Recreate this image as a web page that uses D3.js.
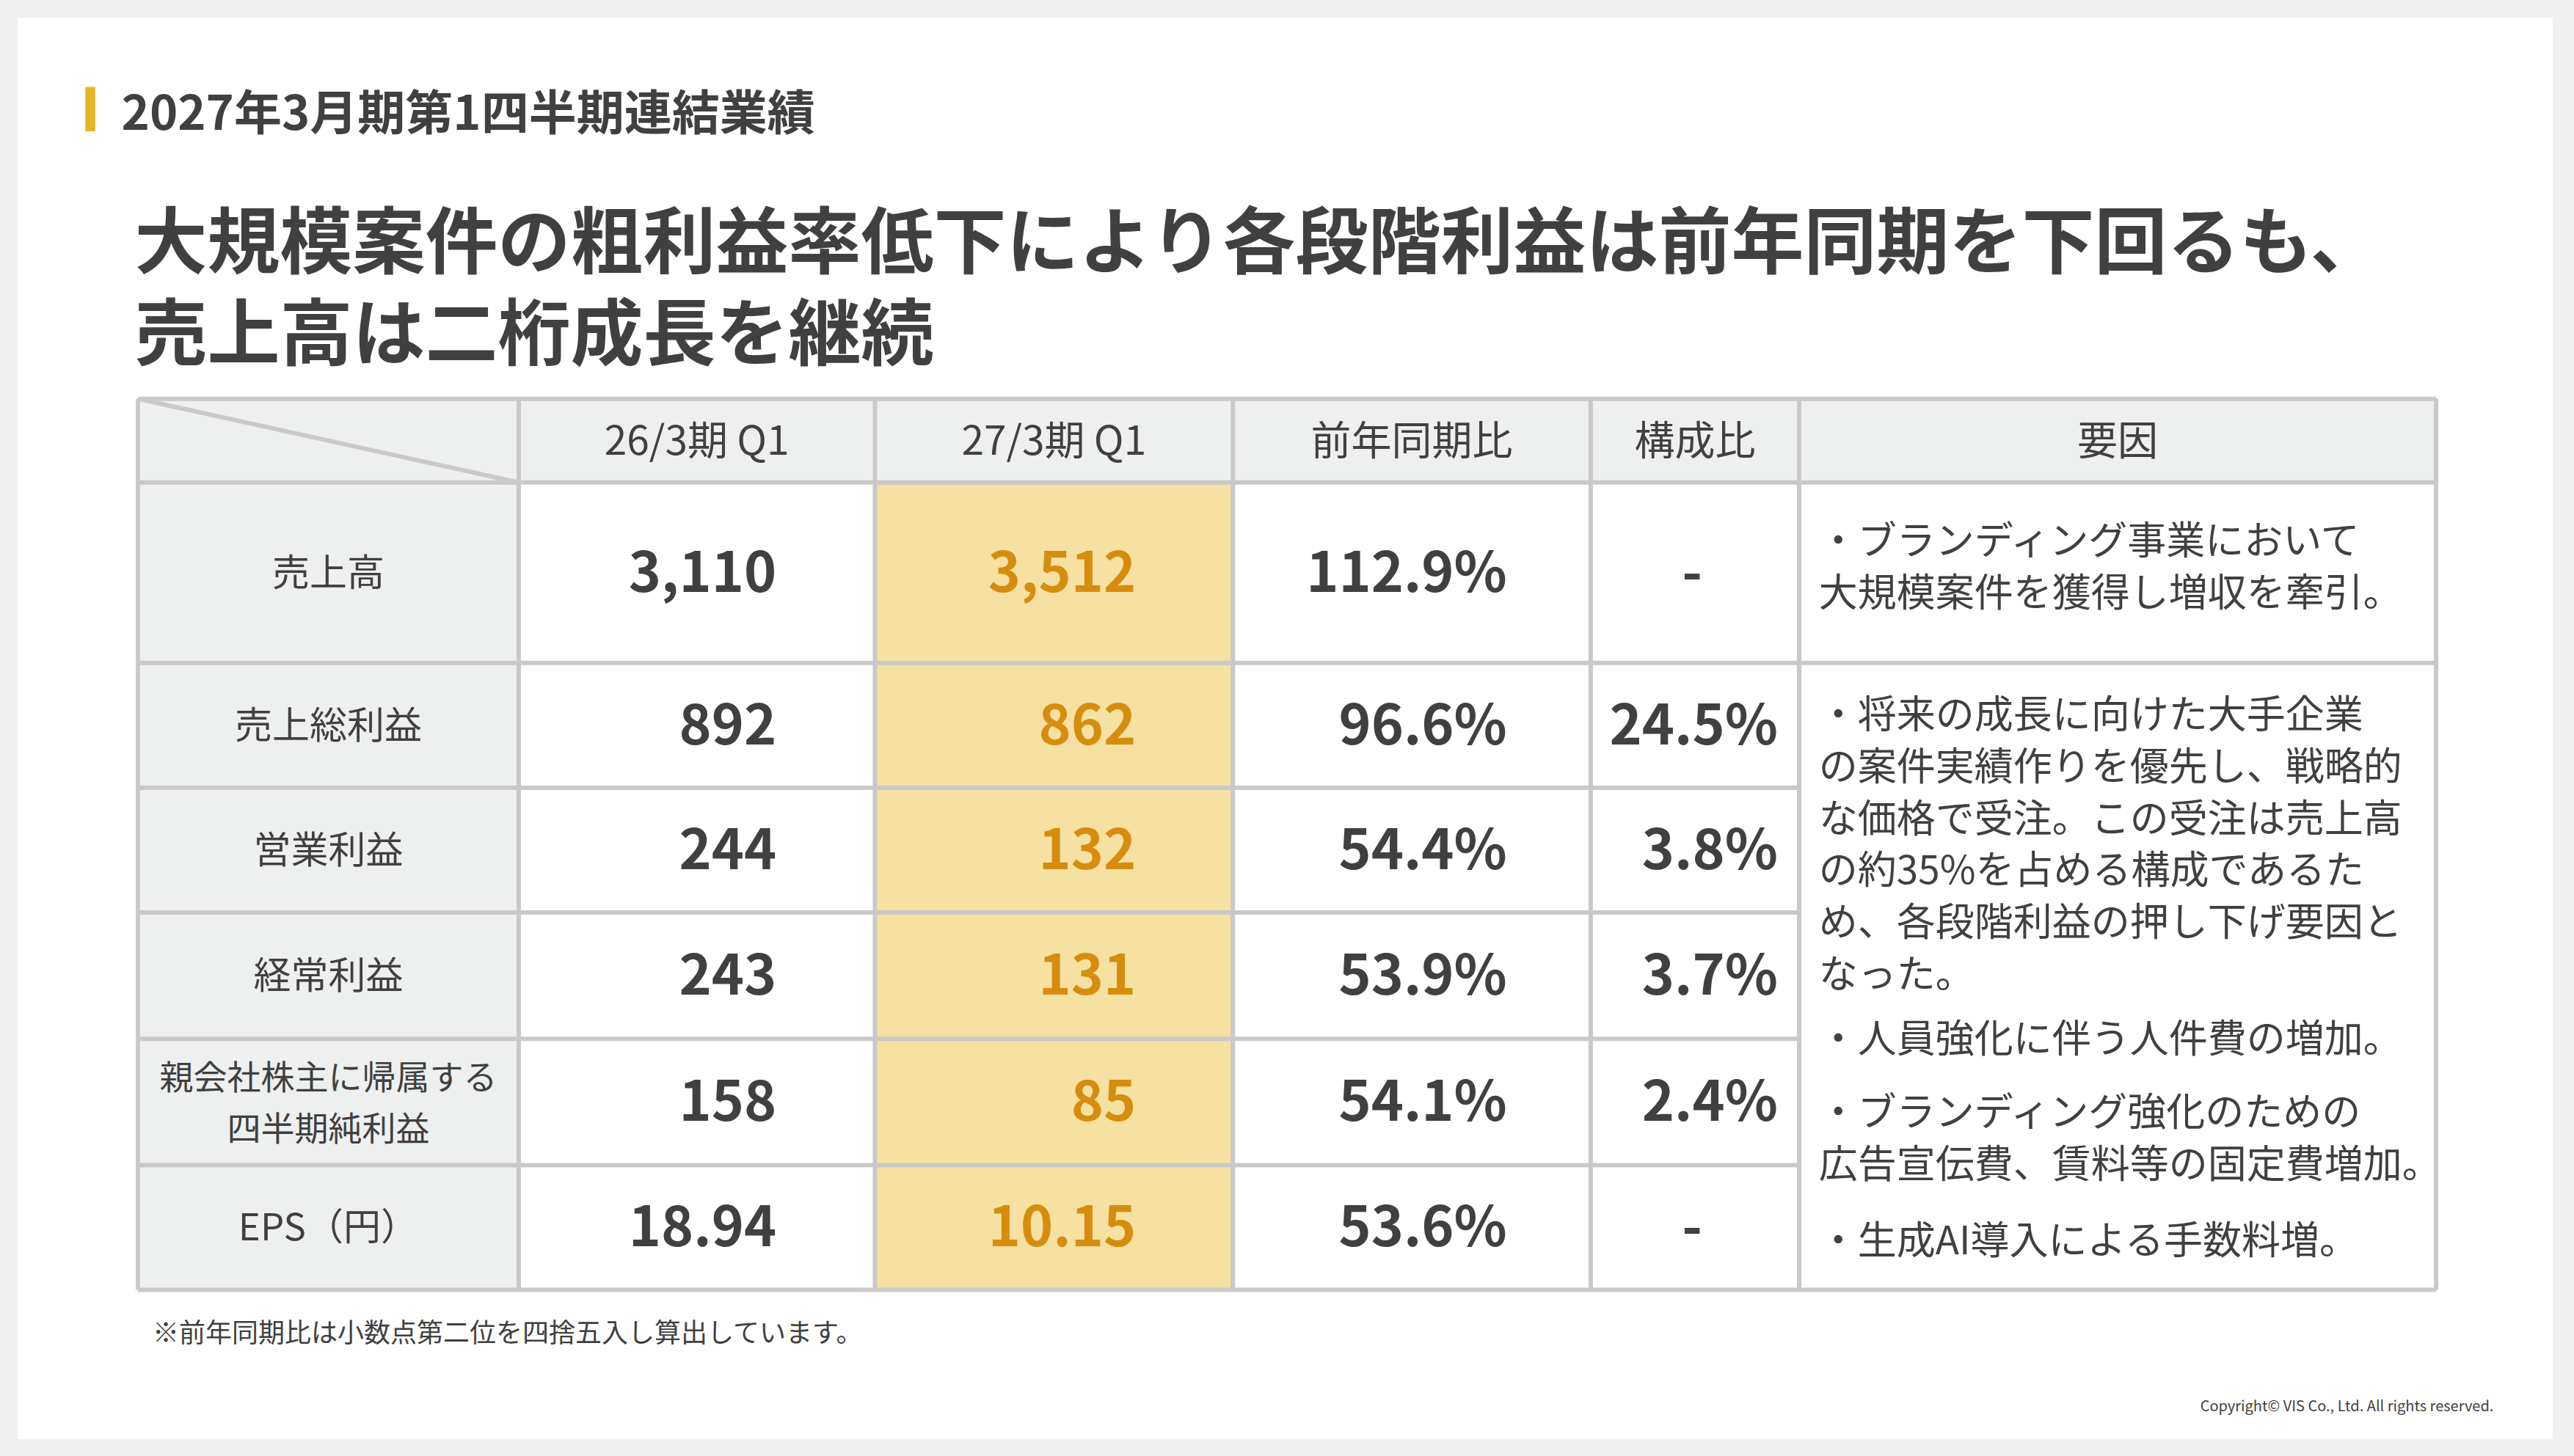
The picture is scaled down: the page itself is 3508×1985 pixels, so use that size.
<!DOCTYPE html>
<html lang="ja">
<head>
<meta charset="utf-8">
<script src="https://d3js.org/d3.v7.min.js"></script>
<style>
body { margin:0; background:#f0f0f0; }
text { font-family:"Noto Sans CJK JP","Noto Sans",sans-serif; fill:#404040; }
</style>
</head>
<body>
<script>
// data
const columns = ["26/3期 Q1", "27/3期 Q1", "前年同期比", "構成比", "要因"];
const rowLabels = [["売上高"], ["売上総利益"], ["営業利益"], ["経常利益"], ["親会社株主に帰属する", "四半期純利益"], ["EPS（円）"]];
const prev = ["3,110", "892", "244", "243", "158", "18.94"];
const curr = ["3,512", "862", "132", "131", "85", "10.15"];
const yoy = ["112.9%", "96.6%", "54.4%", "53.9%", "54.1%", "53.6%"];
const share = ["-", "24.5%", "3.8%", "3.7%", "2.4%", "-"];
const factor1 = ["・ブランディング事業において", "大規模案件を獲得し増収を牽引。"];
const factor2 = [
  ["・将来の成長に向けた大手企業", "の案件実績作りを優先し、戦略的", "な価格で受注。この受注は売上高", "の約35%を占める構成であるた", "め、各段階利益の押し下げ要因と", "なった。"],
  ["・人員強化に伴う人件費の増加。"],
  ["・ブランディング強化のための", "広告宣伝費、賃料等の固定費増加。"],
  ["・生成AI導入による手数料増。"]
];

const W = 3508, H = 1985, s = 3508 / 1568;
const svg = d3.select("body").append("svg").attr("width", W).attr("height", H);
svg.append("rect").attr("width", W).attr("height", H).attr("fill", "#f0f0f0");
svg.append("rect").attr("x", 24).attr("y", 24).attr("width", 3455).attr("height", 1938).attr("fill", "#fff");

// header
svg.append("rect").attr("x", 52*s).attr("y", 53*s).attr("width", 6*s).attr("height", 27*s).attr("fill", "#e6b422");
svg.append("text").attr("x", 74*s).attr("y", 79*s).attr("font-size", 65).attr("font-weight", 700)
  .text("2027年3月期第1四半期連結業績");
svg.append("text").attr("x", 82*s).attr("y", 163*s).attr("font-size", 99).attr("font-weight", 700)
  .text("大規模案件の粗利益率低下により各段階利益は前年同期を下回るも、");
svg.append("text").attr("x", 82*s).attr("y", 219*s).attr("font-size", 99).attr("font-weight", 700)
  .text("売上高は二桁成長を継続");

// table grid
const colEdges = [84, 316, 533, 751, 969, 1096, 1484].map(d => d*s);
const rowEdges = [243, 294, 404, 480, 556, 633, 710, 786].map(d => d*s);
const x = i => colEdges[i], y = i => rowEdges[i];
const g = svg.append("g");

// backgrounds
g.append("rect").attr("x", x(0)).attr("y", y(0)).attr("width", x(6)-x(0)).attr("height", y(1)-y(0)).attr("fill", "#eeefef");
g.append("rect").attr("x", x(0)).attr("y", y(1)).attr("width", x(1)-x(0)).attr("height", y(7)-y(1)).attr("fill", "#eeefef");
g.append("rect").attr("x", x(2)).attr("y", y(1)).attr("width", x(3)-x(2)).attr("height", y(7)-y(1)).attr("fill", "#f6e0a2");

const lc = "#c9c9c9", lw = 6;
// diagonal
g.append("line").attr("x1", x(0)).attr("y1", y(0)).attr("x2", x(1)).attr("y2", y(1)).attr("stroke", lc).attr("stroke-width", 6);
// horizontal lines (rows 2..6 don't cross factor column)
rowEdges.forEach((ry, i) => {
  const x2 = (i >= 3 && i <= 6) ? x(5) : x(6);
  g.append("line").attr("x1", x(0)).attr("x2", x2).attr("y1", ry).attr("y2", ry).attr("stroke", lc).attr("stroke-width", lw);
});
colEdges.forEach(cx => {
  g.append("line").attr("x1", cx).attr("x2", cx).attr("y1", y(0)).attr("y2", y(7)).attr("stroke", lc).attr("stroke-width", lw);
});

// column headers
columns.forEach((c, i) => {
  g.append("text").attr("x", (x(i+1)+x(i+2))/2).attr("y", (y(0)+y(1))/2 + 19)
    .attr("text-anchor", "middle").attr("font-size", 55).text(c);
});

// rows
rowLabels.forEach((lab, r) => {
  const cy = (y(r+1)+y(r+2))/2;
  lab.forEach((t, k) => {
    const off = (k - (lab.length-1)/2) * 70;
    g.append("text").attr("x", (x(0)+x(1))/2).attr("y", cy + off + 18)
      .attr("text-anchor", "middle").attr("font-size", lab.length > 1 ? 46 : 51).text(t);
  });
  const num = (val, xr, col) => g.append("text").attr("x", xr).attr("y", cy + 26)
    .attr("text-anchor", "end").attr("font-size", 75).attr("font-weight", 700)
    .style("fill", col || "#404040").text(val);
  num(prev[r], 473*s);
  num(curr[r], 692*s, "#d68d0e");
  num(yoy[r], 918*s);
  if (share[r] === "-") num(share[r], (x(4)+x(5))/2 + 10);
  else num(share[r], 1083*s);
});

// factors
const fx = 1108*s, lh = 31.6*s;
factor1.forEach((t, k) => {
  g.append("text").attr("x", fx).attr("y", (338 + k*31.6)*s).attr("font-size", 53).text(t);
});
let fy = 444*s;
const gaps = [0, 8*s, 13*s, 15*s];
factor2.forEach((block, b) => {
  fy += gaps[b];
  block.forEach(t => {
    g.append("text").attr("x", fx).attr("y", fy).attr("font-size", 53).text(t);
    fy += lh;
  });
});

// footnotes
svg.append("text").attr("x", 93*s).attr("y", 818*s).attr("font-size", 36).text("※前年同期比は小数点第二位を四捨五入し算出しています。");
svg.append("text").attr("x", 1519*s).attr("y", 860*s).attr("text-anchor", "end").attr("font-size", 20)
  .text("Copyright© VIS Co., Ltd. All rights reserved.");
</script>
</body>
</html>
